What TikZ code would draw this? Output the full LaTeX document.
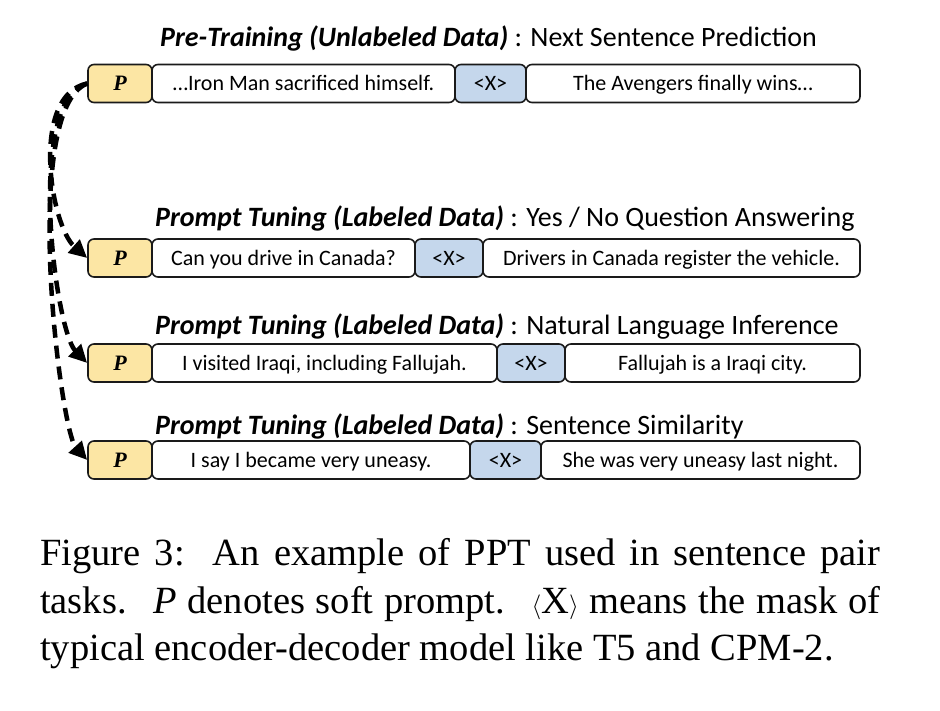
\documentclass[tikz,border=0pt]{standalone}
\usepackage{fontspec}
\setmainfont{Carlito}
\newfontfamily\capfont{Liberation Serif}
\usetikzlibrary{arrows.meta}
\definecolor{pfill}{HTML}{FCE6A4}
\definecolor{xfill}{HTML}{C5D7EC}
\definecolor{edge}{HTML}{1A1A1A}
\tikzset{
  tok/.style={draw=edge, line width=1.6pt, rounded corners=6pt, minimum height=38pt, inner sep=0pt, text height=18pt, text depth=4pt, font=\fontsize{22}{24}\selectfont, fill=white},
  pbox/.style={tok, fill=pfill, font=\fontsize{22}{24}\selectfont\capfont\bfseries\itshape},
  xbox/.style={tok, fill=xfill},
  ttl/.style={anchor=base west, inner sep=0pt, font=\fontsize{28}{30}\selectfont},
  captxt/.style={anchor=base west, inner sep=0pt, font=\fontsize{38.5}{44}\selectfont\capfont},
  darrow/.style={line width=4.5pt, dash pattern=on 13pt off 8pt, -{Triangle[length=18pt,width=17pt]}}
}
\begin{document}
\begin{tikzpicture}[x=1pt,y=-1pt]
\useasboundingbox (0,0) rectangle (940,710);
% row 1
\node[ttl] (t1) at (160,46) {\textbf{\textit{Pre-Training (Unlabeled Data)}} : Next Sentence Prediction};
\node[pbox, minimum width=64pt] (p1) at (120,83.5) {P};
\node[tok, minimum width=303pt] (a1) at (303.5,83.5) {…Iron Man sacrificed himself.};
\node[xbox, minimum width=71pt] (x1) at (490.5,83.5) {<X>};
\node[tok, minimum width=334pt] (b1) at (693,83.5) {The Avengers finally wins…};
% row 2
\node[ttl] (t2) at (155,226) {\textbf{\textit{Prompt Tuning (Labeled Data)}} : Yes / No Question Answering};
\node[pbox, minimum width=64pt] (p2) at (120,258) {P};
\node[tok, minimum width=263pt] (a2) at (283.5,258) {Can you drive in Canada?};
\node[xbox, minimum width=68pt] (x2) at (449,258) {<X>};
\node[tok, minimum width=377pt] (b2) at (671.5,258) {Drivers in Canada register the vehicle.};
% row 3
\node[ttl] (t3) at (155,334) {\textbf{\textit{Prompt Tuning (Labeled Data)}} : Natural Language Inference};
\node[pbox, minimum width=64pt] (p3) at (120,363) {P};
\node[tok, minimum width=345pt] (a3) at (324.5,363) {I visited Iraqi, including Fallujah.};
\node[xbox, minimum width=68pt] (x3) at (531,363) {<X>};
\node[tok, minimum width=295pt] (b3) at (712.5,363) {Fallujah is a Iraqi city.};
% row 4
\node[ttl] (t4) at (155,434) {\textbf{\textit{Prompt Tuning (Labeled Data)}} : Sentence Similarity};
\node[pbox, minimum width=64pt] (p4) at (120,460) {P};
\node[tok, minimum width=318pt] (a4) at (311,460) {I say I became very uneasy.};
\node[xbox, minimum width=71pt] (x4) at (505.5,460) {<X>};
\node[tok, minimum width=319pt] (b4) at (700.5,460) {She was very uneasy last night.};
% arrows
\draw[darrow] (p1.west) .. controls (30,95) and (50,225) .. (p2.west);
\draw[darrow] (p1.west) .. controls (25,100) and (55,330) .. (p3.west);
\draw[darrow] (p1.west) .. controls (20,110) and (60,430) .. (p4.west);
% caption
\node[captxt] (c1) at (40,565) {\makebox[840pt][s]{Figure 3:\ \ An example of PPT used in sentence pair}};
\node[captxt] (c2) at (40,613) {\makebox[840pt][s]{tasks. \ \textit{P} denotes soft prompt. \ $\langle$X$\rangle$ means the mask of}};
\node[captxt] (c3) at (40,660) {typical encoder-decoder model like T5 and CPM-2.};
\end{tikzpicture}
\end{document}
